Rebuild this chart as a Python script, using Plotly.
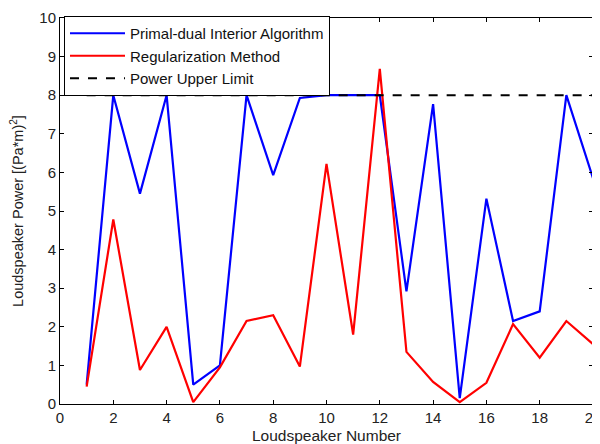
import plotly.graph_objects as go

speakers = list(range(1, 21))
primal_dual = [0.5, 8.0, 5.45, 8.0, 0.5, 1.0, 8.0, 5.93, 7.93, 8.0,
               8.0, 8.0, 2.92, 7.77, 0.15, 5.32, 2.15, 2.4, 8.0, 5.85]
regularization = [0.45, 4.78, 0.88, 2.0, 0.05, 0.95, 2.15, 2.3, 0.97, 6.22,
                  1.8, 8.68, 1.35, 0.57, 0.05, 0.55, 2.07, 1.2, 2.15, 1.55]
upper_limit = [8.0] * 20

x_ticks = list(range(0, 21, 2))
y_ticks = list(range(0, 11))

FONT = "Liberation Sans, Arial"

fig = go.Figure()
fig.add_trace(go.Scatter(x=speakers, y=primal_dual, mode="lines",
                         name="Primal-dual Interior Algorithm",
                         line=dict(color="#0000ff", width=2.2)))
fig.add_trace(go.Scatter(x=speakers, y=regularization, mode="lines",
                         name="Regularization Method",
                         line=dict(color="#ff0000", width=2.2)))
fig.add_trace(go.Scatter(x=speakers, y=upper_limit, mode="lines",
                         name="Power Upper Limit",
                         line=dict(color="#000000", width=2, dash="dash")))

axis_common = dict(showgrid=False, zeroline=False, showline=True,
                   linecolor="black", linewidth=1, mirror="allticks",
                   ticks="inside", ticklen=4, tickcolor="black",
                   automargin=False,
                   tickfont=dict(family=FONT, size=15, color="#222"))

fig.update_xaxes(range=[0, 20], tickvals=x_ticks,
                 title=dict(text="Loudspeaker Number", standoff=5,
                            font=dict(family=FONT, size=15.5, color="#222")),
                 **axis_common)
fig.update_yaxes(range=[0, 10], tickvals=y_ticks,
                 title=dict(text="Loudspeaker Power [(Pa*m)<sup>2</sup>]", standoff=14,
                            font=dict(family=FONT, size=14.5, color="#222")),
                 **axis_common)

fig.update_layout(
    width=600, height=444,
    margin=dict(l=52, r=15, t=9, b=48),
    paper_bgcolor="white", plot_bgcolor="white",
    font=dict(family=FONT, size=15, color="#222"),
    showlegend=True,
    legend=dict(x=0.0075, y=1.0026, xanchor="left", yanchor="top",
                bgcolor="white", bordercolor="black", borderwidth=1,
                font=dict(family=FONT, size=15, color="#111"),
                tracegroupgap=0, itemwidth=55),
)

fig.write_html("out.html")
